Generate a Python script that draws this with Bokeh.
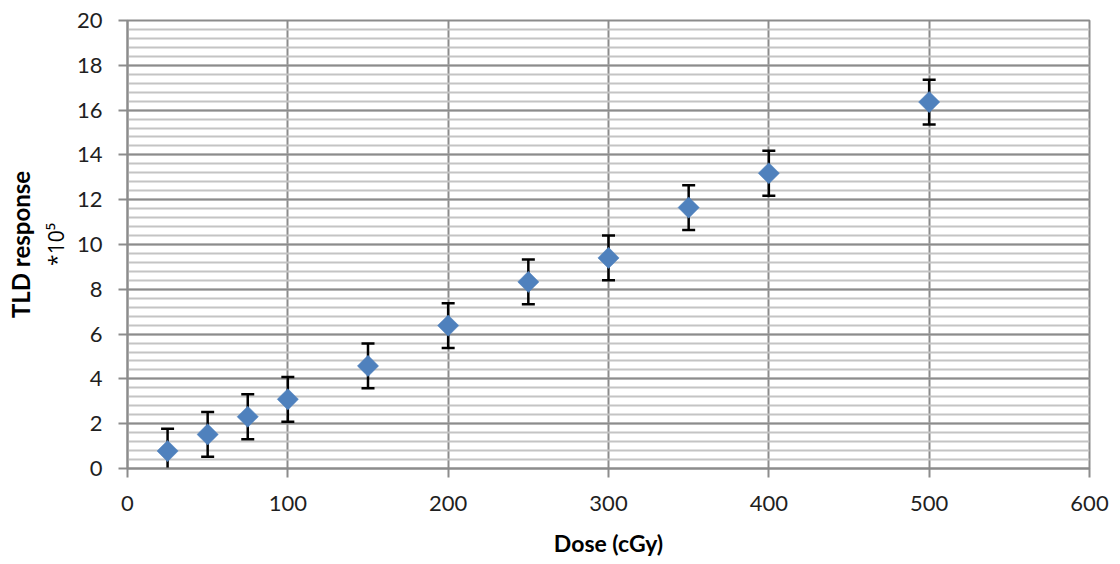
import numpy as np
from bokeh.plotting import figure
from bokeh.models import ColumnDataSource, Whisker, TeeHead, Title, FixedTicker, Range1d
from bokeh.embed import file_html
from bokeh.resources import INLINE

dose = [25, 50, 75, 100, 150, 200, 250, 300, 350, 400, 500]
response = [0.78, 1.52, 2.31, 3.09, 4.58, 6.38, 8.33, 9.40, 11.65, 13.18, 16.36]
error = [1.0, 1.0, 1.0, 1.0, 1.0, 1.0, 1.0, 1.0, 1.0, 1.0, 1.0]
x_ticks = [0, 100, 200, 300, 400, 500, 600]
y_ticks = [0, 2, 4, 6, 8, 10, 12, 14, 16, 18, 20]

upper = [r + e for r, e in zip(response, error)]
lower = [r - e for r, e in zip(response, error)]
src = ColumnDataSource(dict(x=dose, y=response, upper=upper, lower=lower))

FONT = "Lato"
p = figure(width=1120, height=564, frame_width=962, frame_height=448,
           output_backend="svg", toolbar_location=None,
           x_range=Range1d(0, 600), y_range=Range1d(0, 20),
           min_border_left=127, min_border_right=31, min_border_top=20, min_border_bottom=96)
p.background_fill_color = "white"
p.border_fill_color = "white"
p.outline_line_color = "#8c8c8c"
p.outline_line_width = 2

# grids
p.xgrid.ticker = FixedTicker(ticks=x_ticks)
p.ygrid.ticker = FixedTicker(ticks=y_ticks, minor_ticks=[i * 0.4 for i in range(51)])
for g in (p.xgrid, p.ygrid):
    g.grid_line_color = "#8c8c8c"
    g.grid_line_width = 2
p.ygrid.minor_grid_line_color = "#c4c4c4"
p.ygrid.minor_grid_line_width = 2

# axes
p.xaxis.ticker = FixedTicker(ticks=x_ticks)
p.yaxis.ticker = FixedTicker(ticks=y_ticks)
for ax in (p.xaxis, p.yaxis):
    ax.axis_line_color = "#8c8c8c"
    ax.axis_line_width = 2
    ax.major_tick_line_color = "#8c8c8c"
    ax.major_tick_line_width = 2
    ax.major_tick_out = 9
    ax.major_tick_in = 0
    ax.minor_tick_out = 0
    ax.minor_tick_in = 0
    ax.major_label_text_font = FONT
    ax.major_label_text_font_size = "22px"
    ax.major_label_text_color = "#1f1f1f"
p.xaxis.major_label_standoff = 18
p.yaxis.major_label_standoff = 16
p.xaxis.axis_label = "Dose (cGy)"
p.xaxis.axis_label_text_font = FONT
p.xaxis.axis_label_text_font_size = "23px"
p.xaxis.axis_label_text_font_style = "bold"
p.xaxis.axis_label_text_color = "black"
p.xaxis.axis_label_standoff = 15
p.yaxis.axis_label = None

t1 = Title(text="*10⁵", align="center", text_font="Open Sans", text_font_size="21px",
           text_font_style="normal", text_color="black", standoff=8)
p.add_layout(t1, "left")
t2 = Title(text="TLD response", align="center", text_font=FONT, text_font_size="24px",
           text_font_style="bold", text_color="black", standoff=2)
p.add_layout(t2, "left")

# error bars
w = Whisker(base="x", upper="upper", lower="lower", source=src,
            line_color="black", line_width=2.5,
            upper_head=TeeHead(size=13, line_color="black", line_width=2.5),
            lower_head=TeeHead(size=13, line_color="black", line_width=2.5))
p.add_layout(w)

p.scatter("x", "y", source=src, marker="square", size=15, angle=np.pi / 4,
          fill_color="#4f81bd", line_color="#4f81bd", line_width=0.5)

open("out.html", "w").write(file_html(p, INLINE))
